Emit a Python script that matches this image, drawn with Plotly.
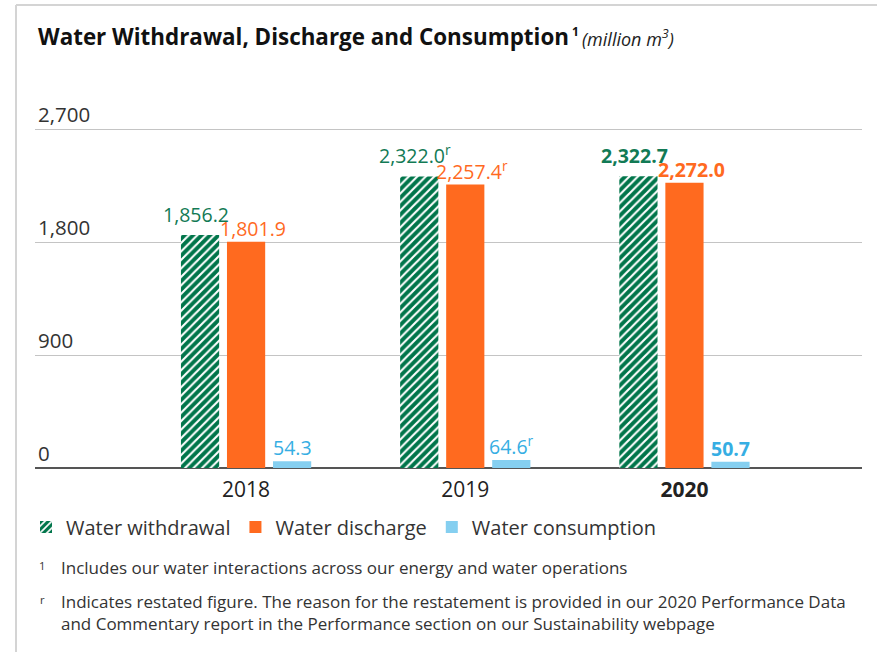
import plotly.graph_objects as go

years = ["2018", "2019", "2020"]
year_ticktext = ["2018", "2019", "<b>2020</b>"]
withdrawal = [1856.2, 2322.0, 2322.7]
discharge = [1801.9, 2257.4, 2272.0]
consumption = [54.3, 64.6, 50.7]
restated = [False, True, False]
bold_year = [False, False, True]
y_ticks = [0, 900, 1800, 2700]

GREEN = "#00754A"
GREEN_TXT = "#127A55"
ORANGE = "#FF6A1F"
BLUE_BAR = "#85CFF0"
BLUE_TXT = "#36AEE3"
FONT = "Open Sans"

W, H = 877, 652
ZERO_Y, TOP_Y = 468, 129          # pixel rows of 0 and 2,700
ML, MR = 35, 15
MT = 126
MB = H - ZERO_Y
PW = W - ML - MR
PH = ZERO_Y - MT
Y_MAX = 2700 * PH / (ZERO_Y - TOP_Y)


def px(x):
    return (x - ML) / PW


def py(y):
    return (ZERO_Y - y) / PH


def labels(vals):
    out = []
    for v, r, b in zip(vals, restated, bold_year):
        s = f"{v:,.1f}"
        if r:
            s += "<sup>r</sup>"
        if b:
            s = f"<b>{s}</b>"
        out.append(s)
    return out


# name, values, bar colour, label colour, group offset (px), x nudge, y nudge
series = [
    ("Water withdrawal", withdrawal, GREEN, GREEN_TXT, -46, -4, 5),
    ("Water discharge", discharge, ORANGE, ORANGE, 0, 7, -2),
    ("Water consumption", consumption, BLUE_BAR, BLUE_TXT, 46, 0, -2),
]

fig = go.Figure()
annotations = []
for name, vals, col, tcol, off, nx, ny in series:
    marker = dict(color=col, line=dict(width=0))
    if name == "Water withdrawal":
        marker["pattern"] = dict(shape="/", fgcolor="white", bgcolor=GREEN,
                                 size=6, solidity=0.35, fgopacity=1)
    fig.add_trace(go.Bar(name=name, x=years, y=vals, marker=marker))
    for i, (v, t) in enumerate(zip(vals, labels(vals))):
        annotations.append(dict(x=i, y=v, xref="x", yref="y", xanchor="center", yanchor="bottom",
                                xshift=off + nx, yshift=ny, showarrow=False, text=t,
                                font=dict(size=19.5, color=tcol, family=FONT)))

shapes = [
    dict(type="line", xref="paper", yref="paper", x0=px(16), x1=px(877),
         y0=py(5), y1=py(5), line=dict(color="#d4d4d4", width=2)),
    dict(type="line", xref="paper", yref="paper", x0=px(16), x1=px(16),
         y0=py(5), y1=py(652), line=dict(color="#d4d4d4", width=2)),
]

annotations += [
    dict(xref="paper", yref="paper", x=px(36), y=py(37), xanchor="left", yanchor="middle",
         showarrow=False, align="left",
         text="<b>Water Withdrawal, Discharge and Consumption</b>",
         font=dict(size=22.4, color="#111111", family=FONT)),
    dict(xref="paper", yref="paper", x=px(570), y=py(31), xanchor="left", yanchor="middle",
         showarrow=False, text="<b>1</b>",
         font=dict(size=12, color="#111111", family=FONT)),
    dict(xref="paper", yref="paper", x=px(580), y=py(38), xanchor="left", yanchor="middle",
         showarrow=False, text="<i>(million m<sup>3</sup>)</i>",
         font=dict(size=18, color="#222222", family=FONT)),
    dict(xref="paper", yref="paper", x=px(37), y=py(565), xanchor="left", yanchor="middle",
         showarrow=False, text="<sup>1</sup>", font=dict(size=16, color="#333333", family=FONT)),
    dict(xref="paper", yref="paper", x=px(59), y=py(567), xanchor="left", yanchor="middle",
         showarrow=False, text="Includes our water interactions across our energy and water operations",
         font=dict(size=17, color="#333333", family=FONT)),
    dict(xref="paper", yref="paper", x=px(38), y=py(599), xanchor="left", yanchor="middle",
         showarrow=False, text="<sup>r</sup>", font=dict(size=16, color="#333333", family=FONT)),
    dict(xref="paper", yref="paper", x=px(59), y=py(612), xanchor="left", yanchor="middle",
         showarrow=False, align="left",
         text="Indicates restated figure. The reason for the restatement is provided in our 2020 Performance Data<br>"
              "and Commentary report in the Performance section on our Sustainability webpage",
         font=dict(size=17, color="#333333", family=FONT)),
]

fig.update_layout(
    width=W, height=H,
    margin=dict(l=ML, r=MR, t=MT, b=MB, autoexpand=False),
    paper_bgcolor="white", plot_bgcolor="white",
    barmode="group", bargap=0.37, bargroupgap=0.17,
    font=dict(family=FONT, color="#333333"),
    showlegend=True,
    legend=dict(orientation="h", x=px(26), y=py(527), xanchor="left", yanchor="middle",
                font=dict(size=20, color="#333333", family=FONT),
                traceorder="normal", itemwidth=30, bgcolor="rgba(0,0,0,0)"),
    shapes=shapes, annotations=annotations,
    xaxis=dict(type="category", range=[-0.963, 2.81], tickvals=years, ticktext=year_ticktext,
               showgrid=False, showline=False, ticks="", ticklabelstandoff=7,
               tickfont=dict(size=21, color="#222222", family=FONT)),
    yaxis=dict(range=[0, Y_MAX], tickvals=y_ticks, tickformat=",d",
               showgrid=True, gridcolor="#c4c4c4", gridwidth=1,
               zeroline=True, zerolinecolor="#555555", zerolinewidth=1.5,
               showline=False, ticks="", ticklabelposition="inside top",
               ticklabeloverflow="allow",
               tickfont=dict(size=20.5, color="#333333", family=FONT)),
)

fig.write_html("out.html", config={"displayModeBar": False},
               post_script="document.body.style.margin='0';")
